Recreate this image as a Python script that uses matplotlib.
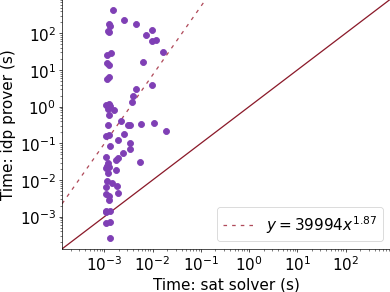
import matplotlib
matplotlib.use("Agg")
import matplotlib.pyplot as plt
import numpy as np

# measured times (s): sat solver on x, idp prover on y
SAT_TIME = [1.52e-3, 2.52e-3, 1.27e-3, 1.29e-3, 4.49e-3, 9.66e-3, 1.17e-3, 1.27e-3,
            7.14e-3, 9.53e-3, 1.15e-2, 1.61e-2, 1.38e-3, 1.15e-3, 1.15e-3, 1.23e-3,
            6.28e-3, 1.23e-3, 1.14e-3, 4.43e-3, 9.53e-3, 4.02e-3, 3.71e-3, 1.25e-3,
            1.10e-3, 1.29e-3, 1.17e-3, 1.59e-3, 1.27e-3, 2.23e-3, 1.17e-3, 3.05e-3,
            3.37e-3, 5.62e-3, 1.05e-2, 1.89e-2, 1.10e-3, 1.23e-3, 2.61e-3, 1.93e-3,
            1.29e-3, 3.48e-3, 3.37e-3, 2.40e-3, 1.10e-3, 1.96e-3, 1.72e-3, 1.21e-3,
            5.36e-3, 1.15e-3, 1.08e-3, 1.25e-3, 1.78e-3, 1.21e-3, 1.12e-3, 1.42e-3,
            1.08e-3, 1.84e-3, 1.89e-3, 1.08e-3, 1.25e-3, 1.23e-3, 1.08e-3, 1.08e-3,
            1.29e-3, 1.06e-3, 1.29e-3, 1.29e-3]
IDP_TIME = [432, 226, 184, 158, 184, 123, 113, 108,
            89.7, 63.1, 65.5, 31.6, 28.4, 25.0, 15.1, 13.6,
            16.4, 6.27, 5.78, 2.94, 3.79, 1.98, 1.30, 1.22,
            1.08, 1.03, 0.853, 0.822, 0.585, 0.406, 0.312, 0.326,
            0.326, 0.347, 0.370, 0.223, 0.156, 0.171, 0.185, 0.121,
            0.0869, 0.103, 0.0689, 0.0536, 0.0427, 0.0408, 0.0345, 0.0286,
            0.0304, 0.0237, 0.0214, 0.0222, 0.0188, 0.0152, 0.00962, 0.00847,
            0.00647, 0.00701, 0.00452, 0.00406, 0.00374, 0.00286, 0.00143, 0.00131,
            0.00143, 0.000655, 0.000716, 0.000267]

# fitted power law y = A * x^B
FIT_A = 39994
FIT_B = 1.87
LIMITS = (1.33e-4, 850)

# default 6.4x4.8 figure saved at a low dpi
fig = plt.figure(figsize=(6.4, 4.8), dpi=61)
ax = fig.add_axes([62 / 390, 43 / 292, 328 / 390, 249 / 292])

ax.scatter(SAT_TIME, IDP_TIME, s=50, color="#7f3fb5", zorder=3)

xs = np.logspace(np.log10(LIMITS[0]), np.log10(LIMITS[1]), 200)
ax.plot(xs, FIT_A * xs ** FIT_B, color="#b04a5a", lw=1.5, dashes=(2.8, 4),
        label="$y = %dx^{%.2f}$" % (FIT_A, FIT_B))
ax.plot(LIMITS, LIMITS, color="#8b1a2a", lw=1.5)

ax.set_xscale("log")
ax.set_yscale("log")
ax.set_xlim(LIMITS)
ax.set_ylim(LIMITS)
ax.tick_params(labelsize=18)
ax.set_xlabel("Time: sat solver (s)", fontsize=18)
ax.set_ylabel("Time: idp prover (s)", fontsize=18)
ax.legend(loc="lower right", fontsize=18)

fig.savefig("out.png", dpi=61)
